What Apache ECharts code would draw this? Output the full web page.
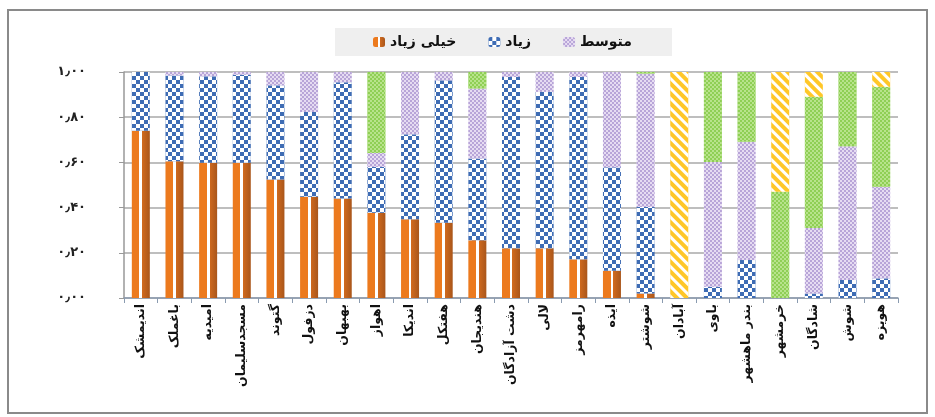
<!DOCTYPE html>
<html><head><meta charset="utf-8">
<script src="https://cdn.jsdelivr.net/npm/echarts@6/dist/echarts.min.js"></script>
<style>html,body{margin:0;padding:0;background:#fff}#c{width:935px;height:417px}</style>
</head><body><div id="c"></div>
<script>
const categories = ['اندیمشک','باغملک','امیدیه','مسجدسلیمان','گتوند','دزفول','بهبهان','اهواز','اندیکا','هفتکل','هندیجان','دشت آزادگان','لالی','رامهرمز','ایذه','شوشتر','آبادان','باوی','بندر ماهشهر','خرمشهر','شادگان','شوش','هویزه'];
const veryHigh = [0.74,0.605,0.598,0.598,0.524,0.448,0.44,0.377,0.348,0.333,0.256,0.22,0.22,0.171,0.121,0.02,0,0,0,0,0,0,0];
const high     = [0.26,0.38,0.383,0.39,0.417,0.375,0.515,0.203,0.377,0.63,0.361,0.758,0.692,0.807,0.457,0.383,0,0.05,0.168,0,0.02,0.08,0.087];
const medium   = [0,0.015,0.019,0.012,0.059,0.177,0.045,0.062,0.275,0.037,0.31,0.022,0.088,0.022,0.422,0.59,0,0.552,0.523,0,0.29,0.592,0.405];
const low      = [0,0,0,0,0,0,0,0.358,0,0,0.073,0,0,0,0,0.007,0,0.398,0.309,0.47,0.58,0.328,0.442];
const veryLow  = [0,0,0,0,0,0,0,0,0,0,0,0,0,0,0,0,1,0,0,0.53,0.11,0,0.066];
const seriesNames = ['خیلی زیاد','زیاد','متوسط','کم','خیلی کم'];
const yTickValues = [0,0.2,0.4,0.6,0.8,1];
const yTickLabels = ['۰٫۰۰','۰٫۲۰','۰٫۴۰','۰٫۶۰','۰٫۸۰','۱٫۰۰'];

const FONT = 'DejaVu Sans';
const chart = echarts.init(document.getElementById('c'), null, {renderer:'canvas'});
const orangeGrad = new echarts.graphic.LinearGradient(0,0,1,0,[
  {offset:0,color:'#EC7A1E'},{offset:0.42,color:'#EC7A1E'},{offset:0.42,color:'#ffffff'},
  {offset:0.58,color:'#ffffff'},{offset:0.58,color:'#D06A1E'},{offset:1,color:'#A9561B'}]);
const base = {type:'bar', stack:'s', barWidth:18, emphasis:{disabled:true}};
chart.setOption({
  animation:false,
  textStyle:{fontFamily:FONT},
  legend:{
    data:['خیلی زیاد','زیاد','متوسط'],
    left:335, top:28, itemWidth:12, itemHeight:10, itemGap:32,
    backgroundColor:'#EFEFEF', padding:[7,40,7,38],
    textStyle:{fontFamily:FONT, fontWeight:'bold', fontSize:14, color:'#111'}
  },
  grid:{left:124, right:37, top:72, bottom:119},
  xAxis:{
    type:'category', data:categories,
    axisLine:{lineStyle:{color:'#8a9bb0', width:1.5}},
    axisTick:{show:true, alignWithLabel:false, lineStyle:{color:'#8a9bb0'}},
    axisLabel:{interval:0, rotate:90, margin:6, fontFamily:FONT, fontWeight:'bold', fontSize:12.5, color:'#111'}
  },
  yAxis:{
    type:'value', min:0, max:1, interval:0.2,
    axisLine:{show:true, lineStyle:{color:'#999', width:1.5}},
    axisTick:{show:true, lineStyle:{color:'#999'}},
    splitLine:{lineStyle:{color:'#a8a8a8', width:1.5}},
    axisLabel:{margin:38, fontFamily:FONT, fontWeight:'bold', fontSize:13, color:'#222',
      formatter:v=>{const i=yTickValues.findIndex(t=>Math.abs(t-v)<1e-6);return i>=0?yTickLabels[i]:'';}}
  },
  series:[
    Object.assign({}, base, {name:seriesNames[0], data:veryHigh, itemStyle:{color:orangeGrad}}),
    Object.assign({}, base, {name:seriesNames[1], data:high, itemStyle:{color:'#3E6CB4',
      decal:{symbol:'rect', symbolSize:1, color:'#ffffff', dashArrayX:[[4,4],[0,4,4,0]], dashArrayY:[4,0]}}}),
    Object.assign({}, base, {name:seriesNames[2], data:medium, itemStyle:{color:'#E6DCF2',
      decal:{symbol:'rect', symbolSize:1, color:'#B8A5D8', dashArrayX:[[2,2],[0,2,2,0]], dashArrayY:[2,0]}}}),
    Object.assign({}, base, {name:seriesNames[3], data:low, itemStyle:{color:'#8FCF55',
      decal:{symbol:'rect', symbolSize:1, color:'#B8E38C', dashArrayX:[[2,2],[0,2,2,0]], dashArrayY:[2,0]}}}),
    Object.assign({}, base, {name:seriesNames[4], data:veryLow, itemStyle:{color:'#FFC728',
      decal:{symbol:'rect', symbolSize:1, rotation:Math.PI/4, color:'#ffffff', dashArrayX:[1,0], dashArrayY:[3,4]}}})
  ],
  graphic:[{type:'rect', shape:{x:8,y:10,width:919,height:403}, style:{fill:null, stroke:'#8a8a8a', lineWidth:2}, silent:true}]
});
</script></body></html>
